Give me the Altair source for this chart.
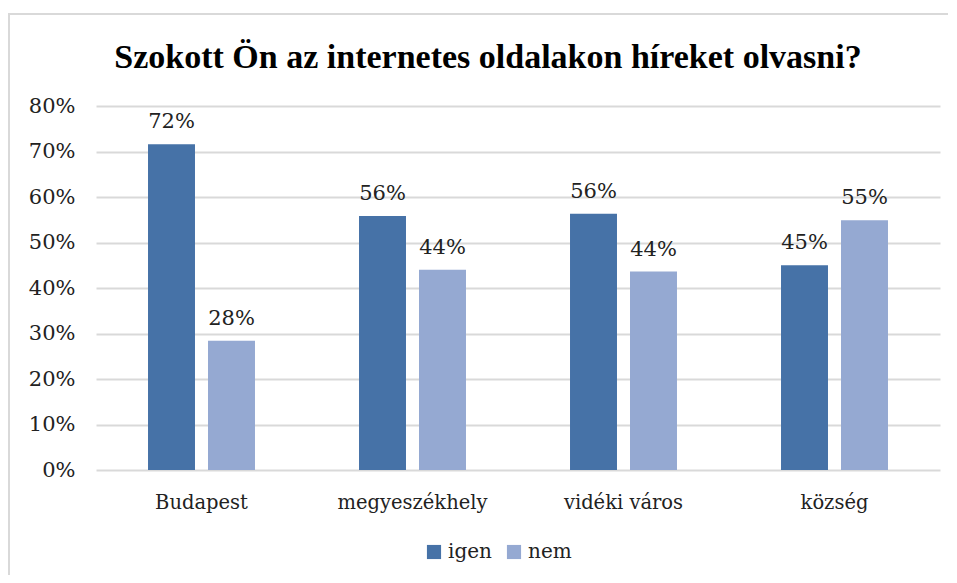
import altair as alt
import pandas as pd

title_text = "Szokott Ön az internetes oldalakon híreket olvasni?"
categories = ["Budapest", "megyeszékhely", "vidéki város", "község"]
series = ["igen", "nem"]
igen = [0.716, 0.558, 0.563, 0.450]
nem = [0.284, 0.440, 0.436, 0.549]
colors = ["#4672A7", "#95A9D2"]
y_ticks = [0, 0.1, 0.2, 0.3, 0.4, 0.5, 0.6, 0.7, 0.8]

rows = []
for c, a, b in zip(categories, igen, nem):
    rows.append({"cat": c, "ser": "igen", "val": a})
    rows.append({"cat": c, "ser": "nem", "val": b})
df = pd.DataFrame(rows)

label_font = "DejaVu Serif"

base = alt.Chart(df).encode(
    x=alt.X("cat:N", sort=categories, title=None,
            scale=alt.Scale(paddingInner=0, paddingOuter=0),
            axis=alt.Axis(labelAngle=0, ticks=False, domain=False, labelPadding=23,
                          labelFont=label_font, labelFontSize=19.5, labelColor="#222222")),
    xOffset=alt.XOffset("ser:N", sort=series,
                        scale=alt.Scale(paddingInner=0.217, paddingOuter=0.867)),
)

bars = base.mark_bar().encode(
    y=alt.Y("val:Q", title=None,
            scale=alt.Scale(domain=[0, 0.8], nice=False),
            axis=alt.Axis(values=y_ticks, format=".0%", ticks=False, domain=False,
                          labelPadding=21, labelFont=label_font, labelFontSize=21,
                          labelColor="#222222", gridColor="#D9D9D9", gridWidth=2)),
    color=alt.Color("ser:N", sort=series, title=None,
                    scale=alt.Scale(domain=series, range=colors),
                    legend=alt.Legend(orient="none", direction="horizontal",
                                      legendX=328, legendY=436, symbolType="square",
                                      symbolSize=200, symbolStrokeWidth=0,
                                      labelFont=label_font, labelFontSize=20,
                                      labelColor="#222222", columnPadding=12)),
)

labels = base.mark_text(dy=-22, font=label_font, fontSize=21, color="#222222").encode(
    y="val:Q",
    text=alt.Text("val:Q", format=".0%"),
)

border = alt.Chart(pd.DataFrame({"k": [0]})).mark_rect(
    fill=None, stroke="#D9D9D9", strokeWidth=2
).encode(
    x=alt.value(-87), x2=alt.value(900), y=alt.value(-92), y2=alt.value(520)
)

title = alt.Chart(pd.DataFrame({"t": [title_text]})).mark_text(
    font="Liberation Serif", fontSize=34, fontWeight="bold", color="#000000",
    align="center", baseline="alphabetic"
).encode(
    text="t:N", x=alt.value(392), y=alt.value(-38)
)

chart = alt.layer(border, bars, labels, title).properties(
    width=844, height=364,
    autosize=alt.AutoSizeParams(type="none"),
    padding={"left": 88, "top": 98, "right": 8, "bottom": 105},
).configure_view(stroke=None).configure_axis(grid=True).configure_axisX(grid=False)

chart.save("out.html", embed_options={"renderer": "svg", "actions": False})
